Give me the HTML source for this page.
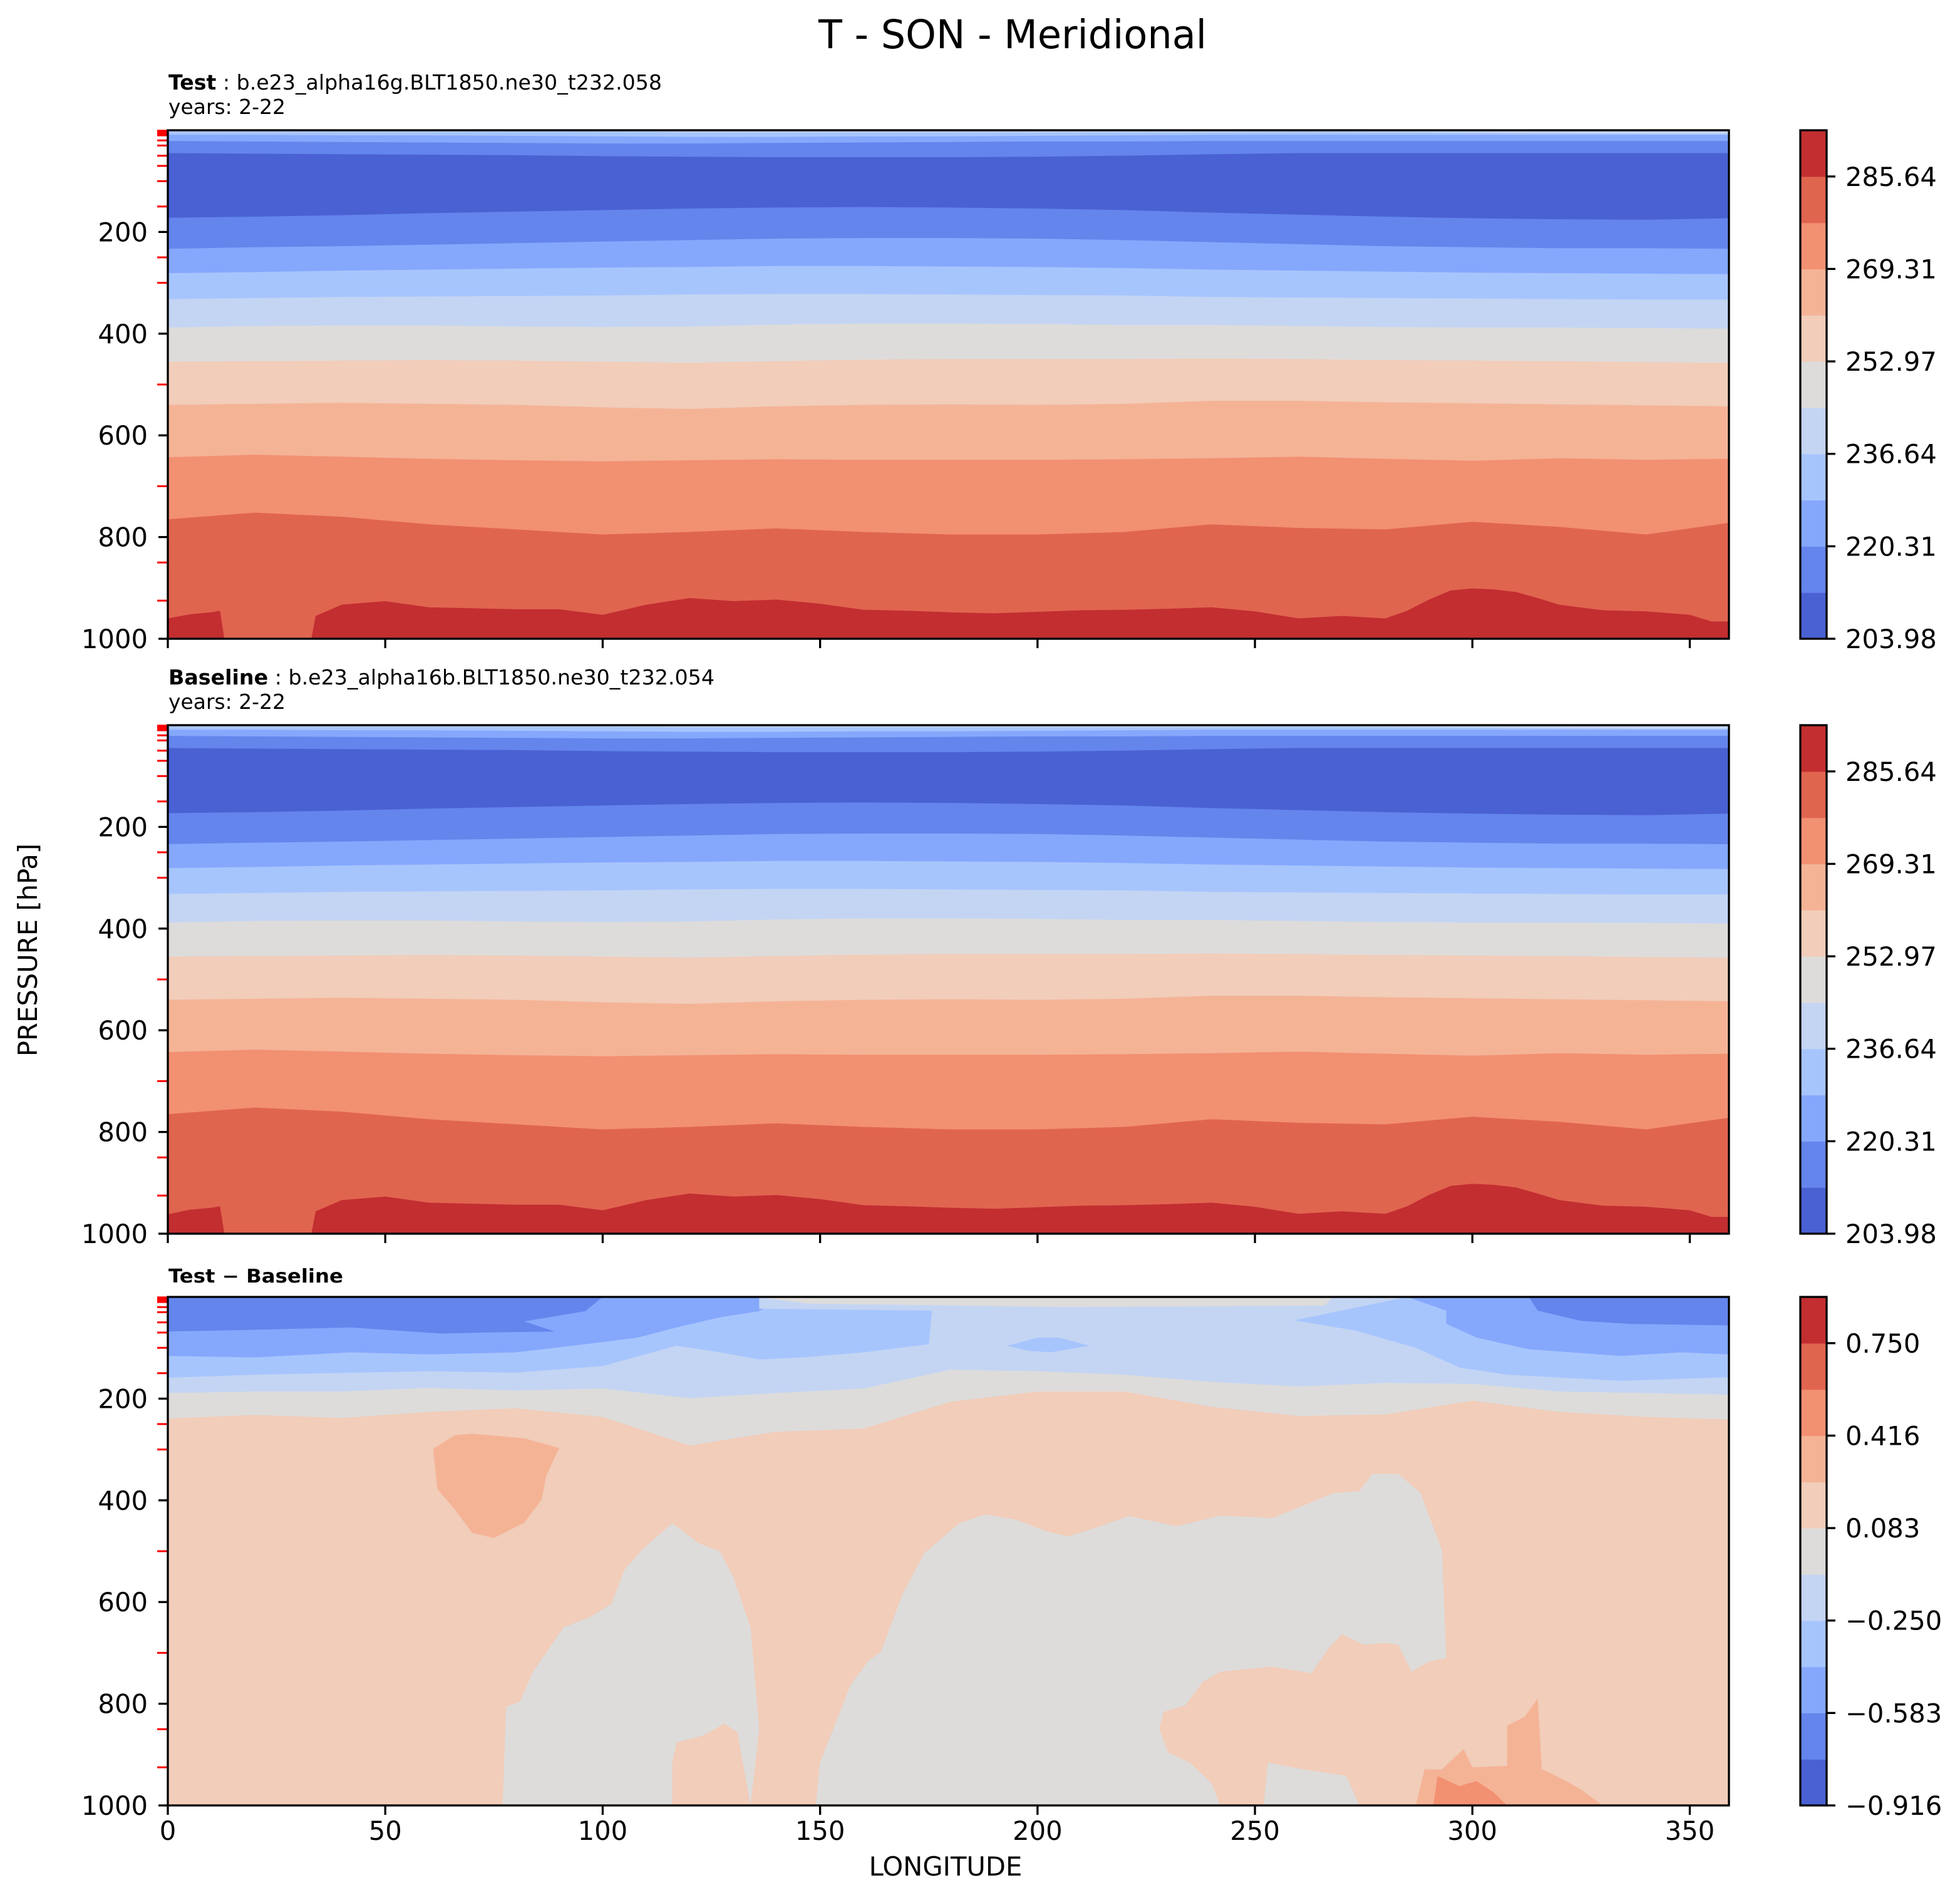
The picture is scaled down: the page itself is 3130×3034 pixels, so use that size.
<!DOCTYPE html>
<html>
<head>
<meta charset="utf-8">
<style>
html,body{margin:0;padding:0;background:#fff;}
svg{display:block;}
text{font-family:"DejaVu Sans","Liberation Sans",sans-serif;fill:#000;}
</style>
</head>
<body>
<svg id="fig" xmlns="http://www.w3.org/2000/svg" width="3130" height="3034" viewBox="0 0 3130 3034"></svg>
<script>
// ---------- data ----------
const lonGrid = [0,20,40,60,80,100,120,140,160,180,200,220,240,260,280,300,320,340,359];
// Test boundaries (pressure hPa of contour edges, top to bottom)
const testT1 = [3,3,3,3,3,3,4,4,4,4,4,4,4,3,4,5,6,7,7];
const testT2 = [9,9,10,10,11,12,13,13,12,12,11,10,9,9,9,9,9,9,9];
const testT3 = [21,22,23,24,25,26,26,25,24,23,22,22,21,21,21,21,21,21,21];
const testT4 = [45,46,47,48,49,51,52,53,53,53,52,50,47,45,45,45,45,45,45];
const testT5 = [172,170,167,163,160,157,154,152,151,152,154,157,162,166,170,173,175,176,173];
const testT6 = [233,230,228,225,222,219,216,213,212,212,213,216,220,224,228,230,232,232,233];
const testT7 = [281,279,276,274,272,270,269,267,267,268,269,271,274,276,278,280,281,282,283];
const testT8 = [332,330,328,327,326,325,323,322,322,323,324,325,328,329,330,331,332,333,333];
const testT9 = [388,385,384,384,386,387,386,382,380,380,381,383,383,385,387,388,388,389,390];
const testT10 = [455,454,453,452,453,455,457,454,451,450,450,450,449,450,452,453,454,456,457];
const testT11 = [540,538,536,538,540,545,548,543,540,539,540,538,532,532,535,537,539,541,543];
const testT12 = [643,638,642,646,649,651,649,647,648,648,648,647,645,642,646,650,645,648,646];
const testT13 = [765,752,760,775,785,795,790,783,790,795,795,790,775,782,785,770,780,795,772];
const bottomLon = [0,5,10,12,13,33,34,40,50,60,70,80,90,100,110,120,130,140,150,160,170,180,190,200,210,220,230,240,250,260,270,280,285,290,295,300,305,310,315,320,330,340,350,355,359];
const testT14 = [960,952,948,945,1000,1000,955,933,926,938,940,942,942,953,933,920,926,923,931,943,945,948,950,947,944,943,941,938,946,960,955,960,945,923,905,901,903,908,920,933,944,946,953,966,966];
// Baseline boundaries
const baseT1 = [3,3,3,3,3,3,4,4,4,4,4,4,4,3,4,5,6,7,7];
const baseT2 = [9,9,10,10,11,12,13,13,12,12,11,10,9,9,9,9,9,9,9];
const baseT3 = [21,22,23,24,25,26,26,25,24,23,22,22,21,21,21,21,21,21,21];
const baseT4 = [45,46,47,48,49,51,52,53,53,53,52,50,47,45,45,45,45,45,45];
const baseT5 = [173,171,168,164,161,158,155,153,152,153,155,158,163,167,171,174,176,177,174];
const baseT6 = [234,231,229,226,223,220,217,214,213,213,214,217,221,225,229,231,233,233,234];
const baseT7 = [281,279,276,274,272,270,269,267,267,268,269,271,274,276,278,280,281,282,283];
const baseT8 = [332,330,328,327,326,325,323,322,322,323,324,325,328,329,330,331,332,333,333];
const baseT9 = [388,385,384,384,386,387,386,382,380,380,381,383,383,385,387,388,388,389,390];
const baseT10 = [455,454,453,452,453,455,457,454,451,450,450,450,449,450,452,453,454,456,457];
const baseT11 = [540,538,536,538,540,545,548,543,540,539,540,538,532,532,535,537,539,541,543];
const baseT12 = [643,638,642,646,649,651,649,647,648,648,648,647,645,642,646,650,645,648,646];
const baseT13 = [765,752,760,775,785,795,790,783,790,795,795,790,775,782,785,770,780,795,772];
const baseT14 = [962,953,949,946,1000,1000,956,934,927,939,941,943,943,954,934,921,927,924,932,944,946,949,951,948,945,944,942,939,947,961,956,961,946,924,906,902,904,909,921,934,945,947,954,967,967];
// Difference panel
const diffG = [239,232,238,226,219,236,292,265,259,206,186,186,216,234,231,204,226,236,241];
const diffL4 = [189,186,186,179,184,180,199,189,180,143,146,153,167,176,169,171,186,189,192];
const diffL3Lon = [0,20,60,80,100,117,127,136,146,160,175,176,258,259,273,287,297,308,334,359];
const diffL3P = [159,153,146,149,136,96,109,123,119,109,93,0,0,46,66,100,139,153,165,158];
const diffL2Lon = [0,20,42,60,80,96,108,117,127,136,141,285,294,294,301,313,334,348,359];
const diffL2P = [116,119,109,113,109,93,80,60,40,28,0,0,27,53,80,103,116,109,113];
const diffL1Lon = [0,18,42,63,73,89,82,96,100,313,315,325,336,359];
const diffL1P = [68,65,60,72,70,68,48,28,0,0,27,47,53,56];
const capLon = [136,285,259,176,136];
const capP = [0,0,46,27,23];
const stripLon = [136,268,266,207,147];
const stripP = [0,0,17,20,13];
const grayLeftLon = [77,77.8,81,84,91,97,102,105,109,116,122,127,130,134,136,134];
const grayLeftP = [1000,806,796,737,650,630,604,537,498,445,484,501,551,650,849,1000];
const grayRightLon = [149,150,157,161,164,169,174,182,188,195,202,207,212,221,232,242,254,261,268,274,277,283,288,293,294,290,286,283,280,275,270,267,263,254,242,238,234,229,228,230,235,240,242];
const grayRightP = [1000,916,763,717,697,584,504,445,428,438,461,471,458,431,451,430,435,411,386,382,348,348,385,498,710,717,737,684,680,684,663,690,740,727,737,757,803,816,849,896,916,956,1000];
const grayPatchLon = [252,253,261,271,274];
const grayPatchP = [1000,916,929,942,1000];
const pinkPatchLon = [116,116,117,123,128,131,134];
const pinkPatchP = [1000,916,876,863,839,856,1000];
const salmonBlobLon = [61,66,70,82,90,87,86,82,75,70,66,62];
const salmonBlobP = [299,272,269,278,297,352,398,444,474,464,418,378];
const salmonLowLon = [287,289,293,298,300,308,308,312,315,316,321,325,330];
const salmonLowP = [1000,929,929,889,925,922,843,826,790,929,949,969,1000];
const orangeLowLon = [291,292,297,301,305,308];
const orangeLowP = [1000,942,962,952,975,1000];
const blueBlobLon = [193,200,205,212,203,198];
const blueBlobP = [96,80,80,96,109,106];
// axes / ticks
const xTicks = [0,50,100,150,200,250,300,350];
const yTicks = [200,400,600,800,1000];
const redLevels = [1,2,3,5,7,10,20,30,50,70,100,150,250,300,500,700,850,925];
const tempTickLabels = ['203.98','220.31','236.64','252.97','269.31','285.64'];
const diffTickLabels = ['\u22120.916','\u22120.583','\u22120.250','0.083','0.416','0.750'];
const bandColors = ['#4a61d3','#6485ec','#85a8fc','#a7c5fd','#c4d5f3','#dddcdb','#f1cdba','#f5b396','#f29072','#e0654f','#c32e31'];

// ---------- geometry ----------
const NS = 'http://www.w3.org/2000/svg';
const X0 = 268, X1 = 2761, LONMAX = 359, PH = 812;
const TOPS = [208, 1158, 2071];
const CBX0 = 2875, CBX1 = 2917;
function xs(lon){ return X0 + lon / LONMAX * (X1 - X0); }
function ys(top, p){ return top + p / 1000 * PH; }
const svg = document.getElementById('fig');
function mk(tag, attrs, parent){
  const el = document.createElementNS(NS, tag);
  for (const k in attrs) el.setAttribute(k, attrs[k]);
  (parent || svg).appendChild(el);
  return el;
}
function fillTop(g, top, lons, ps, color, name){
  let pts = xs(lons[0]).toFixed(1) + ',' + top + ' ';
  for (let i = 0; i < lons.length; i++) pts += xs(lons[i]).toFixed(1) + ',' + ys(top, ps[i]).toFixed(1) + ' ';
  pts += xs(lons[lons.length-1]).toFixed(1) + ',' + top;
  const el = mk('polygon', {points: pts, fill: color}, g);
  
  
  return el;
}
function poly(g, top, lons, ps, color, name){
  let pts = '';
  for (let i = 0; i < lons.length; i++) pts += xs(lons[i]).toFixed(1) + ',' + ys(top, ps[i]).toFixed(1) + ' ';
  const el = mk('polygon', {points: pts, fill: color}, g);
  
  
  return el;
}
function txt(x, y, s, size, attrs, parent){
  const el = mk('text', Object.assign({x: x, y: y, 'font-size': size}, attrs || {}), parent);
  el.textContent = s;
  return el;
}

// ---------- title ----------
const title = txt(1307, 77, 'T - SON - Meridional', 63, {textLength: 620, lengthAdjust: 'spacingAndGlyphs'});



// ---------- panels ----------
function makePanel(idx, name){
  const top = TOPS[idx];
  const defs = mk('defs', {});
  const cp = mk('clipPath', {id: 'clip' + idx}, defs);
  mk('rect', {x: X0, y: top, width: X1 - X0, height: PH}, cp);
  const g = mk('g', {'clip-path': 'url(#clip' + idx + ')'});
  
  
  return g;
}
function drawStacked(g, top, bounds, name){
  const bg = mk('rect', {x: X0, y: top, width: X1 - X0, height: PH, fill: bandColors[10]}, g);
  
  
  const aboveBand = [4,3,2,1,0,1,2,3,4,5,6,7,8,9];
  for (let i = bounds.length - 1; i >= 0; i--){
    const lons = (i === bounds.length - 1) ? bottomLon : lonGrid;
    fillTop(g, top, lons, bounds[i], bandColors[aboveBand[i]], name + '-contour-band-' + (i+1));
  }
}
function drawAxes(idx, name, showXLabels){
  const top = TOPS[idx];
  const bottom = top + PH;
  const ax = mk('g', {});
  
  
  for (const p of redLevels){
    const t = mk('line', {x1: 251, x2: X0, y1: ys(top, p), y2: ys(top, p), stroke: '#ff0000', 'stroke-width': 3}, ax);
    
    
  }
  for (const p of yTicks){
    const y = ys(top, p);
    const t = mk('line', {x1: 253, x2: X0, y1: y, y2: y, stroke: '#000', 'stroke-width': 3.3}, ax);
    
    
    const l = txt(236, y + 15, String(p), 41.7, {'text-anchor': 'end'}, ax);
    
    
  }
  for (const lon of xTicks){
    const x = xs(lon);
    const t = mk('line', {x1: x, x2: x, y1: bottom, y2: bottom + 15, stroke: '#000', 'stroke-width': 3.3}, ax);
    
    
    if (showXLabels){
      const l = txt(x, 2938, String(lon), 41.7, {'text-anchor': 'middle'}, ax);
      
      
    }
  }
  const sp = mk('rect', {x: X0, y: top, width: X1 - X0, height: PH, fill: 'none', stroke: '#000', 'stroke-width': 3.3}, ax);
  
  
}
function drawColorbar(idx, name, labels){
  const top = TOPS[idx];
  const cb = mk('g', {});
  
  
  const bh = PH / bandColors.length;
  for (let i = 0; i < bandColors.length; i++){
    const r = mk('rect', {x: CBX0, y: (top + PH - (i+1)*bh).toFixed(2), width: CBX1 - CBX0, height: (bh + 0.6).toFixed(2), fill: bandColors[i]}, cb);
    
    
  }
  const o = mk('rect', {x: CBX0, y: top, width: CBX1 - CBX0, height: PH, fill: 'none', stroke: '#000', 'stroke-width': 3.3}, cb);
  
  
  for (let k = 0; k < labels.length; k++){
    const y = top + PH - 2*k*bh;
    const t = mk('line', {x1: CBX1, x2: CBX1 + 14, y1: y, y2: y, stroke: '#000', 'stroke-width': 3.3}, cb);
    
    
    const l = txt(2947, y + 15, labels[k], 41.7, {}, cb);
    
    
  }
}
function subtitle(y, bold, rest, width, name){
  const t = mk('text', {x: 269, y: y, 'font-size': 33, textLength: width, lengthAdjust: 'spacingAndGlyphs'});
  const b = mk('tspan', {'font-weight': 'bold'}, t);
  b.textContent = bold;
  const r = mk('tspan', {}, t);
  r.textContent = rest;
  
  
  return t;
}

// Panel 1: Test
const g1 = makePanel(0, 'test-panel');
drawStacked(g1, TOPS[0], [testT1,testT2,testT3,testT4,testT5,testT6,testT7,testT8,testT9,testT10,testT11,testT12,testT13,testT14], 'test');
drawAxes(0, 'test-panel', false);
drawColorbar(0, 'test', tempTickLabels);
subtitle(143, 'Test', ' : b.e23_alpha16g.BLT1850.ne30_t232.058', 788, 'test-case-title');
const y1 = txt(269, 182, 'years: 2-22', 33, {textLength: 187, lengthAdjust: 'spacingAndGlyphs'});



// Panel 2: Baseline
const g2 = makePanel(1, 'baseline-panel');
drawStacked(g2, TOPS[1], [baseT1,baseT2,baseT3,baseT4,baseT5,baseT6,baseT7,baseT8,baseT9,baseT10,baseT11,baseT12,baseT13,baseT14], 'baseline');
drawAxes(1, 'baseline-panel', false);
drawColorbar(1, 'baseline', tempTickLabels);
subtitle(1093, 'Baseline', ' : b.e23_alpha16b.BLT1850.ne30_t232.054', 872, 'baseline-case-title');
const y2 = txt(269, 1132, 'years: 2-22', 33, {textLength: 187, lengthAdjust: 'spacingAndGlyphs'});



// Panel 3: Difference
const t3 = TOPS[2];
const g3 = makePanel(2, 'difference-panel');
const bg3 = mk('rect', {x: X0, y: t3, width: X1 - X0, height: PH, fill: bandColors[6]}, g3);


fillTop(g3, t3, lonGrid, diffG, bandColors[5], 'difference-near-zero-layer');
fillTop(g3, t3, lonGrid, diffL4, bandColors[4], 'difference-cool-layer-1');
fillTop(g3, t3, diffL3Lon, diffL3P, bandColors[3], 'difference-cool-layer-2');
fillTop(g3, t3, diffL2Lon, diffL2P, bandColors[2], 'difference-cool-layer-3');
fillTop(g3, t3, diffL1Lon, diffL1P, bandColors[1], 'difference-cool-layer-4');
poly(g3, t3, capLon, capP, bandColors[4], 'difference-top-cap');
poly(g3, t3, stripLon, stripP, bandColors[5], 'difference-top-strip');
poly(g3, t3, blueBlobLon, blueBlobP, bandColors[3], 'difference-cool-blob');
poly(g3, t3, grayLeftLon, grayLeftP, bandColors[5], 'difference-neutral-region-west');
poly(g3, t3, grayRightLon, grayRightP, bandColors[5], 'difference-neutral-region-east');
poly(g3, t3, grayPatchLon, grayPatchP, bandColors[5], 'difference-neutral-patch');
poly(g3, t3, pinkPatchLon, pinkPatchP, bandColors[6], 'difference-warm-patch');
poly(g3, t3, salmonBlobLon, salmonBlobP, bandColors[7], 'difference-warm-blob');
poly(g3, t3, salmonLowLon, salmonLowP, bandColors[7], 'difference-warm-surface');
poly(g3, t3, orangeLowLon, orangeLowP, bandColors[8], 'difference-hot-surface');
drawAxes(2, 'difference-panel', true);
drawColorbar(2, 'difference', diffTickLabels);
const dt = mk('text', {x: 269, y: 2048, 'font-size': 30, 'font-weight': 'bold', textLength: 279, lengthAdjust: 'spacingAndGlyphs'});
dt.textContent = 'Test \u2212 Baseline';



// axis titles
const xl = txt(1510, 2995, 'LONGITUDE', 41.7, {'text-anchor': 'middle'});


const yl = txt(0, 0, 'PRESSURE [hPa]', 41.7, {'text-anchor': 'middle', transform: 'translate(59,1517) rotate(-90)'});


</script>
</body>
</html>
